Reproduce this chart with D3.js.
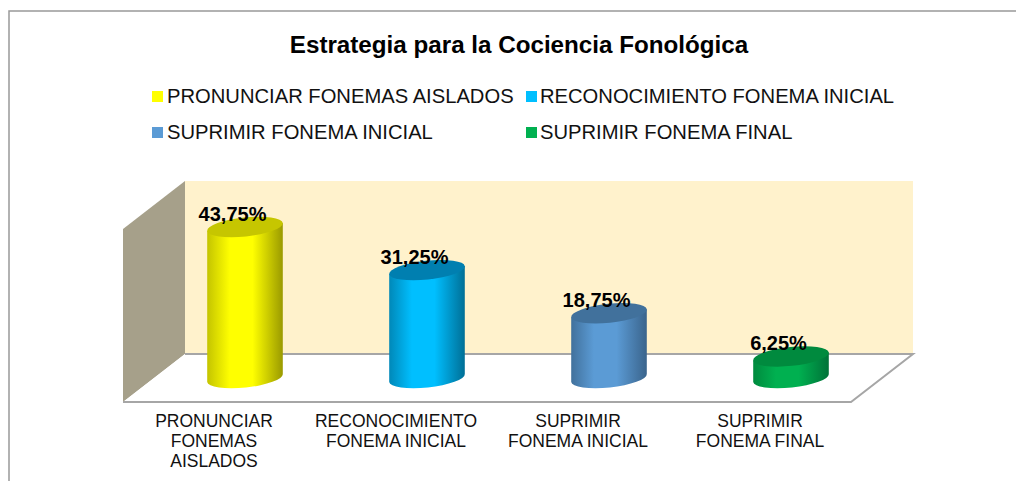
<!DOCTYPE html>
<html lang='en'>
<head>
  <meta charset='utf-8'>
  <title>Estrategia para la Cociencia Fonológica</title>
  <script src="https://d3js.org/d3.v7.min.js"></script>
  <style>
    html, body { margin: 0; padding: 0; background: #fff; overflow: hidden; }
    svg { display: block; font-family: "Liberation Sans", Arial, sans-serif; }
  </style>
</head>
<body>
  <div id="my_dataviz"></div>

  <script>
    // data
    const categories = ["PRONUNCIAR FONEMAS AISLADOS", "RECONOCIMIENTO FONEMA INICIAL", "SUPRIMIR FONEMA INICIAL", "SUPRIMIR FONEMA FINAL"];
    const values = [43.75, 31.25, 18.75, 6.25];
    const valueLabels = ["43,75%", "31,25%", "18,75%", "6,25%"];
    const tickLines = [["PRONUNCIAR", "FONEMAS", "AISLADOS"], ["RECONOCIMIENTO", "FONEMA INICIAL"], ["SUPRIMIR", "FONEMA INICIAL"], ["SUPRIMIR", "FONEMA FINAL"]];
    const colors = ["#ffff00", "#00bfff", "#5b9bd5", "#00b050"];
    const leftColors = ["#c4c400", "#0088b8", "#41719c", "#008a3e"];
    const rightColors = ["#9a9a00", "#006f96", "#3a648c", "#007238"];
    const capColors = ["#c6c600", "#007fb0", "#41719c", "#008a3e"];

    const width = 1016, height = 481;

    // the 3d box of the plot: front floor edge, and how far back it goes
    const front = {left: 123, right: 851, y: 402};
    const depth = {x: 62, y: -48};
    const wallTop = 181;
    const baseY = 378, barRx = 38, barRy = 9.5, tilt = -6;

    const svg = d3.select("#my_dataviz")
      .append("svg")
      .attr("width", width)
      .attr("height", height);

    // frame, it runs off the right and bottom of the picture
    svg.append("path")
      .attr("d", `M9,${height}V11H${width}`)
      .attr("fill", "none")
      .attr("stroke", "#999999")
      .attr("stroke-width", 1.5);

    svg.append("text")
      .attr("x", 519).attr("y", 53)
      .attr("text-anchor", "middle")
      .style("font-size", "24.2px")
      .style("font-weight", "bold")
      .text("Estrategia para la Cociencia Fonológica");

    // legend
    const legendX = [152, 526], legendY = [96.5, 132.5];
    const legend = svg.append("g")
      .selectAll("g")
      .data(categories)
      .join("g")
      .attr("transform", (d, i) => `translate(${legendX[i % 2]}, ${legendY[Math.floor(i / 2)]})`);
    legend.append("rect")
      .attr("y", -5.5).attr("width", 11).attr("height", 11)
      .attr("fill", (d, i) => colors[i]);
    legend.append("text")
      .attr("x", (d, i) => i % 2 ? 14 : 15)
      .attr("y", 6.5)
      .style("font-size", "20.2px")
      .attr("fill", "#111")
      .text(d => d);

    // scales
    const x = d3.scaleBand().domain(categories).range([front.left, front.right]);
    const y = d3.scaleLinear().domain([0, 50]).range([baseY, baseY - 172.6]);
    const barX = d => x(d) + x.bandwidth() / 2 + depth.x / 2;

    // walls and floor
    const backY = front.y + depth.y;
    svg.append("rect")
      .attr("x", front.left + depth.x).attr("y", wallTop)
      .attr("width", front.right - front.left).attr("height", backY - wallTop)
      .attr("fill", "#fff2cc");
    svg.append("path")
      .attr("d", `M${front.left},${front.y}V${wallTop - depth.y}L${front.left + depth.x},${wallTop}V${backY}Z`)
      .attr("fill", "#a6a08a");
    svg.append("path")
      .attr("d", `M${front.left},${front.y}L${front.left + depth.x},${backY}H${front.right + depth.x}L${front.right},${front.y}Z`)
      .attr("fill", "#ffffff");
    svg.append("path")
      .attr("d", `M${front.left},${front.y}H${front.right}L${front.right + depth.x},${backY}H${front.left + depth.x}`)
      .attr("fill", "none")
      .attr("stroke", "#a6a6a6")
      .attr("stroke-width", 2);

    // gradients for the cylinder sides
    const defs = svg.append("defs");
    colors.forEach((c, i) => {
      const g = defs.append("linearGradient").attr("id", "cyl" + i);
      g.append("stop").attr("offset", "0%").attr("stop-color", leftColors[i]);
      g.append("stop").attr("offset", "30%").attr("stop-color", c);
      g.append("stop").attr("offset", "60%").attr("stop-color", c);
      g.append("stop").attr("offset", "100%").attr("stop-color", rightColors[i]);
    });

    // cylinders
    const dx = barRx * Math.cos(tilt * Math.PI / 180);
    const dy = barRx * Math.sin(tilt * Math.PI / 180);
    const bars = svg.append("g")
      .selectAll("g")
      .data(categories)
      .join("g");

    bars.append("path")
      .attr("d", (d, i) => {
        const cx = barX(d), top = y(values[i]);
        return `M${cx - dx},${top - dy}L${cx - dx},${baseY - dy}`
          + `A${barRx},${barRy} ${tilt} 0 0 ${cx + dx},${baseY + dy}`
          + `L${cx + dx},${top + dy}Z`;
      })
      .attr("fill", (d, i) => `url(#cyl${i})`);

    bars.append("ellipse")
      .attr("rx", barRx).attr("ry", barRy)
      .attr("transform", (d, i) => `translate(${barX(d)}, ${y(values[i])}) rotate(${tilt})`)
      .attr("fill", (d, i) => capColors[i]);

    bars.append("text")
      .attr("x", d => barX(d) - 12.5)
      .attr("y", (d, i) => y(values[i]) - 6)
      .attr("text-anchor", "middle")
      .style("font-size", "20px")
      .style("font-weight", "bold")
      .text((d, i) => valueLabels[i]);

    // category axis, labels are broken into lines by hand
    const axis = svg.append("g")
      .attr("transform", `translate(0, ${front.y})`)
      .call(d3.axisBottom(x).tickSize(0).tickFormat(""));
    axis.select(".domain").remove();
    axis.selectAll(".tick text")
      .attr("dy", 0)
      .style("font-family", "inherit")
      .style("font-size", "17.5px")
      .attr("fill", "#111")
      .each(function (d, i) {
        d3.select(this).selectAll("tspan")
          .data(tickLines[i])
          .join("tspan")
          .attr("x", 0)
          .attr("y", (l, j) => 25 + j * 20)
          .text(l => l);
      });
  </script>
</body>
</html>
